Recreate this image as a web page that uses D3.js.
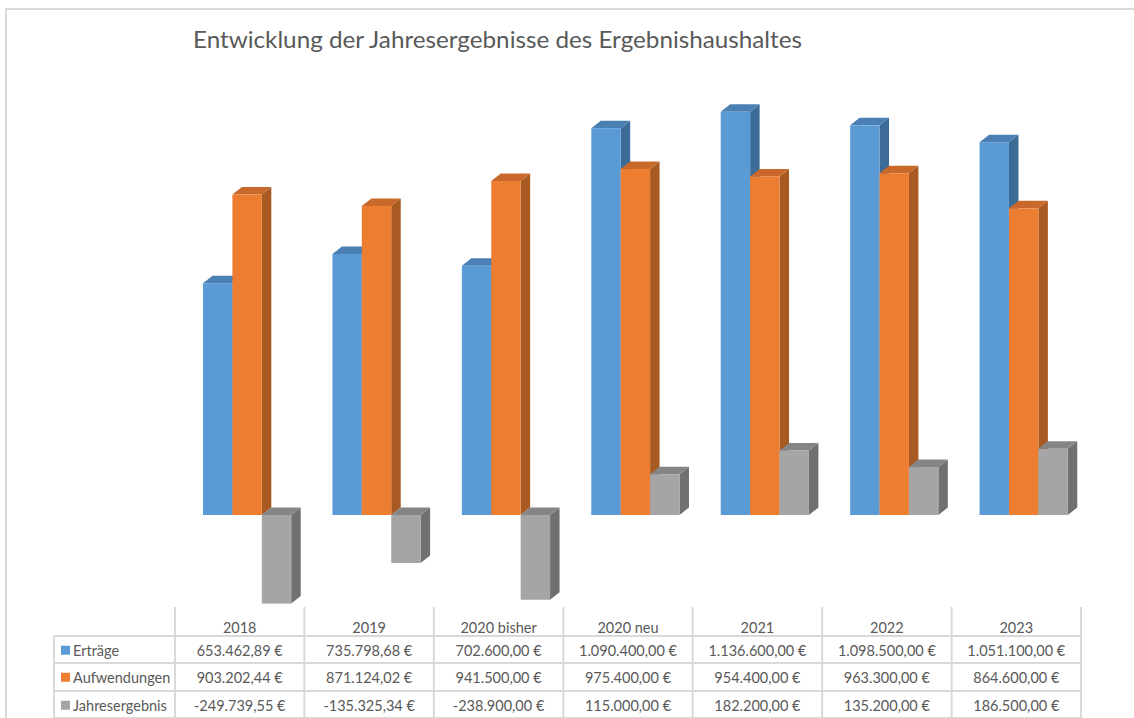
<!DOCTYPE html>
<html>
<head>
<meta charset="utf-8">
<script src="https://cdn.jsdelivr.net/npm/d3@7"></script>
<style>
  body { margin: 0; background: #fff; }
  svg { display: block; }
  text { font-family: Lato, "Open Sans", sans-serif; fill: #595959; }
</style>
</head>
<body>
<div id="chart"></div>
<script>
// chart data
var categories = ['2018', '2019', '2020 bisher', '2020 neu', '2021', '2022', '2023'];
var seriesNames = ['Erträge', 'Aufwendungen', 'Jahresergebnis'];
var ertraege = [653462.89, 735798.68, 702600.00, 1090400.00, 1136600.00, 1098500.00, 1051100.00];
var aufwendungen = [903202.44, 871124.02, 941500.00, 975400.00, 954400.00, 963300.00, 864600.00];
var jahresergebnis = [-249739.55, -135325.34, -238900.00, 115000.00, 182200.00, 135200.00, 186500.00];

var width = 1134, height = 718;

// colours per series: front, top, side
var colors = [
  { front: '#5b9bd5', top: '#4a80b3', side: '#3c6b98' },
  { front: '#ed7d31', top: '#c8682a', side: '#a95a22' },
  { front: '#a5a5a5', top: '#858585', side: '#707070' }
];

var series = [ertraege, aufwendungen, jahresergebnis];

var locale = d3.formatLocale({
  decimal: ',', thousands: '.', grouping: [3], currency: ['', ' €'], minus: '-'
});
var fmt = locale.format(',.2f');

var svg = d3.select('#chart').append('svg')
  .attr('width', width)
  .attr('height', height);

// chart area border (top + left visible)
svg.append('path')
  .attr('d', 'M6,' + height + 'V9H' + width)
  .attr('fill', 'none')
  .attr('stroke', '#d9d9d9')
  .attr('stroke-width', 2);

// title
svg.append('text')
  .attr('x', 193)
  .attr('y', 48)
  .attr('textLength', 609)
  .attr('lengthAdjust', 'spacingAndGlyphs')
  .style('font-size', '23px')
  .text('Entwicklung der Jahresergebnisse des Ergebnishaushaltes');

// scales
var tableLeft = 175, tableRight = 1081;
var x = d3.scaleBand()
  .domain(categories)
  .range([tableLeft, tableRight]);

var y = d3.scaleLinear()
  .domain([-250000, 1250000])
  .range([603.7, 71.6]);

var barW = 29.4, groupOffset = 28;
var dx = 9.5, dy = 7.5;

///////////////////////////////////////////////////////////////////////////
//////////////////////////// 3D bars //////////////////////////////////////
///////////////////////////////////////////////////////////////////////////

var bars = [];
categories.forEach(function(c, i) {
  series.forEach(function(s, j) {
    bars.push({ cat: c, s: j, v: s[i] });
  });
});

var gBars = svg.append('g');

bars.forEach(function(d) {
  var x0 = x(d.cat) + groupOffset + d.s * barW;
  var x1 = x0 + barW;
  var yTop = Math.min(y(d.v), y(0));
  var yBot = Math.max(y(d.v), y(0));
  var col = colors[d.s];
  var g = gBars.append('g');

  // side face
  g.append('path')
    .attr('d', 'M' + x1 + ',' + yTop + 'L' + (x1 + dx) + ',' + (yTop - dy) +
      'L' + (x1 + dx) + ',' + (yBot - dy) + 'L' + x1 + ',' + yBot + 'Z')
    .attr('fill', col.side);

  // top face
  g.append('path')
    .attr('d', 'M' + x0 + ',' + yTop + 'L' + (x0 + dx) + ',' + (yTop - dy) +
      'L' + (x1 + dx) + ',' + (yTop - dy) + 'L' + x1 + ',' + yTop + 'Z')
    .attr('fill', col.top);

  // front face
  g.append('rect')
    .attr('x', x0)
    .attr('y', yTop)
    .attr('width', barW)
    .attr('height', yBot - yTop)
    .attr('fill', col.front);
});

///////////////////////////////////////////////////////////////////////////
//////////////////////////// data table ///////////////////////////////////
///////////////////////////////////////////////////////////////////////////

var tableLeftLabel = 54;
var headerTop = 607;
var rowTops = [636, 663, 691];
var rowH = 27.5;
var lineColor = '#d9d9d9';

var gTable = svg.append('g');

// vertical lines
var vx = categories.map(function(c) { return x(c); }).concat([tableRight]);
vx.forEach(function(v) {
  gTable.append('line')
    .attr('x1', v).attr('x2', v)
    .attr('y1', headerTop).attr('y2', height)
    .attr('stroke', lineColor).attr('stroke-width', 2);
});
gTable.append('line')
  .attr('x1', tableLeftLabel).attr('x2', tableLeftLabel)
  .attr('y1', rowTops[0]).attr('y2', height)
  .attr('stroke', lineColor).attr('stroke-width', 2);

// horizontal lines
rowTops.concat([718]).forEach(function(r) {
  gTable.append('line')
    .attr('x1', tableLeftLabel).attr('x2', tableRight)
    .attr('y1', r).attr('y2', r)
    .attr('stroke', lineColor).attr('stroke-width', 2);
});

// header
gTable.selectAll('.hdr')
  .data(categories)
  .enter().append('text')
  .attr('class', 'hdr')
  .attr('x', function(d) { return x(d) + x.bandwidth() / 2; })
  .attr('y', 627)
  .attr('text-anchor', 'middle')
  .attr('dominant-baseline', 'central')
  .style('font-size', '14.5px')
  .text(function(d) { return d; });

// rows
series.forEach(function(s, j) {
  var cy = rowTops[j] + rowH / 2 + 0.5;
  gTable.append('rect')
    .attr('x', 61).attr('y', cy - 4.5)
    .attr('width', 9).attr('height', 9)
    .attr('fill', colors[j].front);
  gTable.append('text')
    .attr('x', 73)
    .attr('y', cy)
    .attr('dominant-baseline', 'central')
    .style('font-size', '14.5px')
    .text(seriesNames[j]);
  gTable.selectAll('.cell' + j)
    .data(s)
    .enter().append('text')
    .attr('x', function(d, i) { return x(categories[i]) + x.bandwidth() / 2; })
    .attr('y', cy)
    .attr('text-anchor', 'middle')
    .attr('dominant-baseline', 'central')
    .style('font-size', '14.5px')
    .text(function(d) { return fmt(d) + ' €'; });
});
</script>
</body>
</html>
